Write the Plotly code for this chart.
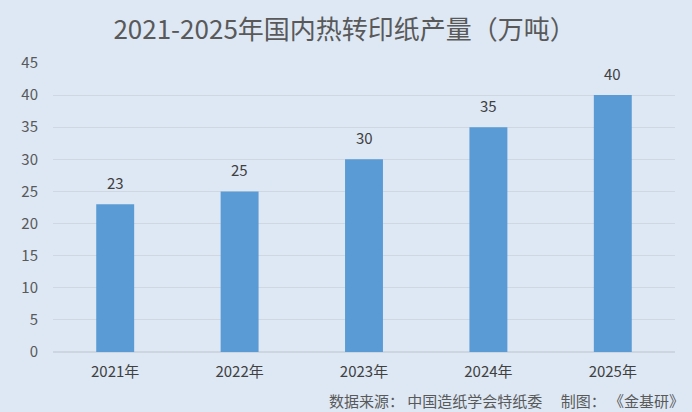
import plotly.graph_objects as go

years = ["2021年", "2022年", "2023年", "2024年", "2025年"]
output = [23, 25, 30, 35, 40]
y_ticks = [0, 5, 10, 15, 20, 25, 30, 35, 40, 45]

font = "Noto Sans CJK SC"
fig = go.Figure(go.Bar(
    x=years, y=output, width=0.305,
    marker=dict(color="#5b9bd5", line=dict(width=0)),
    hoverinfo="x+y",
))
value_labels = [dict(x=yr, y=v, text=str(v), xref="x", yref="y", showarrow=False,
                     yanchor="bottom", yshift=9,
                     font=dict(size=15, color="#404040", family=font))
                for yr, v in zip(years, output)]
fig.update_layout(
    width=692, height=412,
    paper_bgcolor="#dde8f4", plot_bgcolor="#dde8f4",
    margin=dict(l=53, r=17, t=63, b=60),
    title=dict(text="2021-2025年国内热转印纸产量（万吨）", x=0.498, xanchor="center",
               y=0.927, yanchor="middle",
               font=dict(size=26, color="#595959", family=font)),
    font=dict(family=font, color="#595959", size=14),
    showlegend=False,
    xaxis=dict(showgrid=False, showline=False, ticks="", ticklabelstandoff=9,
               tickfont=dict(size=15, color="#404040")),
    yaxis=dict(range=[0, 45], tickvals=y_ticks, showgrid=True, gridcolor="#cfd8e2", gridwidth=1,
               zeroline=True, zerolinecolor="#cdd6e0", ticks="", ticklabelstandoff=14,
               tickfont=dict(size=15, color="#595959")),
    annotations=value_labels + [dict(text="数据来源： 中国造纸学会特纸委　 制图： 《金基研》", xref="paper", yref="paper",
                      x=1.017, y=-0.168, xanchor="right", yanchor="middle", showarrow=False,
                      font=dict(size=15, color="#595959", family=font))],
)
fig.write_html("out.html", config={"displayModeBar": False},
               post_script="document.body.style.margin='0';document.body.style.background='#dde8f4';")
